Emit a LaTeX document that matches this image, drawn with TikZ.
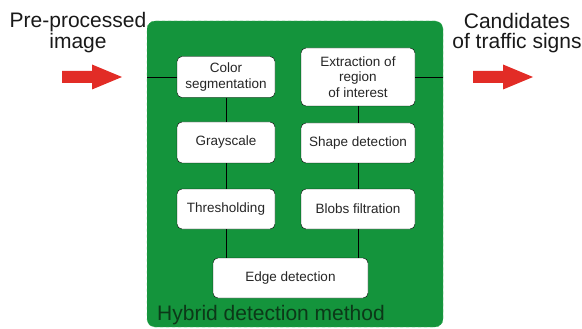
\documentclass[tikz,border=0pt]{standalone}
\usepackage{fontspec}
\setmainfont{Liberation Sans}
\usepackage{tikz}
\usetikzlibrary{backgrounds}

\definecolor{methodgreen}{RGB}{20,148,60}
\definecolor{methodedge}{RGB}{60,180,90}
\definecolor{labelgreen}{RGB}{12,56,24}
\definecolor{arrowred}{RGB}{226,44,38}

\begin{document}
\begin{tikzpicture}[
            x=1pt, y=-1pt,
            procbox/.style = {
                rectangle,
                draw=black,
                fill=white,
                rounded corners=5pt,
                align=center,
                inner sep=0pt,
                minimum height=40pt,
                text=black!85,
                font=\fontsize{13.5}{15.5}\selectfont
            },
            methodbox/.style = {
                rectangle,
                draw=methodedge,
                dashed,
                fill=methodgreen,
                rounded corners=8pt,
                inner sep=0pt,
                minimum width=296pt,
                minimum height=306pt
            },
            sidelabel/.style = {
                align=center,
                inner sep=0pt,
                text=black!90
            }
        ]
            \useasboundingbox (0,0) rectangle (582,329);

            \node[methodbox] (method) at (295,174) {};
            \node[anchor=base west, inner sep=0pt, text=labelgreen,
                font=\fontsize{21}{21}\selectfont] (methodname) at (157,320) {Hybrid detection method};

            \node[procbox, minimum width=98pt, minimum height=41pt] (colseg) at (226,77) {Color\\segmentation};
            \node[procbox, minimum width=98pt, minimum height=41pt] (gray) at (226,142.5) {Grayscale};
            \node[procbox, minimum width=98pt] (thresh) at (226,209) {Thresholding};
            \node[procbox, minimum width=155pt] (edge) at (290.5,278) {Edge detection};
            \node[procbox, minimum width=114pt, minimum height=58pt] (roi) at (358,77) {Extraction of\\region\\of interest};
            \node[procbox, minimum width=114pt] (shape) at (358,143) {Shape detection};
            \node[procbox, minimum width=114pt] (blobs) at (358,209) {Blobs filtration};

            \draw[thin, color=black] (method.west |- colseg.west) -- (colseg.west);
            \draw[thin, color=black] (roi.east) -- (roi.east -| method.east);

            \draw[thin, color=black] (colseg) -- (gray);
            \draw[thin, color=black] (gray) -- (thresh);
            \draw[thin, color=black] (thresh.south) -- (thresh.south |- edge.north);

            \draw[thin, color=black] (roi) -- (shape);
            \draw[thin, color=black] (shape) -- (blobs);
            \draw[thin, color=black] (blobs.south) -- (blobs.south |- edge.north);

            \node[sidelabel, font=\fontsize{21}{21}\selectfont] (input) at (78,32.5) {Pre-processed\\image};
            \node[sidelabel, font=\fontsize{21}{20}\selectfont] (output) at (517,33.5) {Candidates\\of traffic signs};

            \foreach \ax in {62,473} {
                \fill[arrowred, shift={(\ax,77)}] (0,-6) -- (30,-6) -- (30,-12.5) -- (60,0)
                    -- (30,12.5) -- (30,6) -- (0,6) -- cycle;
            }

        \end{tikzpicture}
\end{document}
